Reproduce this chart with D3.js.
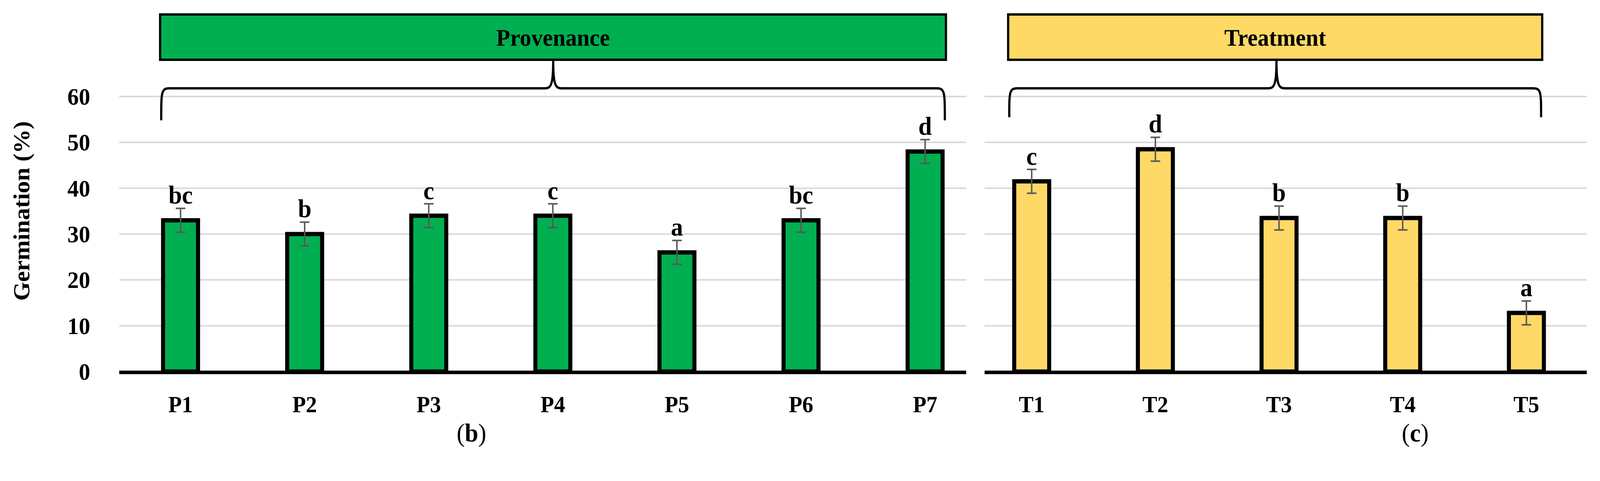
<!DOCTYPE html>
<html><head><meta charset="utf-8">
<script src="https://cdn.jsdelivr.net/npm/d3@7"></script>
<style>html,body{margin:0;padding:0;background:#fff;overflow:hidden}svg{display:block;width:100vw;height:100vh}text{font-family:"Liberation Serif","DejaVu Serif",serif;font-weight:bold}</style>
</head><body><svg id="c" viewBox="0 0 4347 1231" preserveAspectRatio="none"></svg>
<script>
var provenances = ["P1","P2","P3","P4","P5","P6","P7"];
var provValues = [33, 30, 34, 34, 26, 33, 48];
var provErrors = [2.6, 2.6, 2.6, 2.6, 2.6, 2.6, 2.6];
var provLetters = ["bc","b","c","c","a","bc","d"];
var treatments = ["T1","T2","T3","T4","T5"];
var treatValues = [41.5, 48.5, 33.5, 33.5, 12.8];
var treatErrors = [2.6, 2.6, 2.6, 2.6, 2.6];
var treatLetters = ["c","d","b","b","a"];
var yTicks = [0, 10, 20, 30, 40, 50, 60];

var svg = d3.select("#c");
var y = d3.scaleLinear().domain([0, 60]).range([951, 247]);

function panel(cats, vals, errs, letters, o) {
  var x = d3.scaleBand().domain(cats).range(o.band).paddingInner(0.69).paddingOuter(0.345);
  var g = svg.append("g");
  g.selectAll(".grid").data(yTicks.slice(1)).enter().append("line")
    .attr("x1", o.axis[0]).attr("x2", o.axis[1])
    .attr("y1", function (d) { return y(d); }).attr("y2", function (d) { return y(d); })
    .attr("stroke", "#d9d9d9").attr("stroke-width", 4);
  var bw = 95;
  g.selectAll(".bar").data(vals).enter().append("rect")
    .attr("x", function (d, i) { return x(cats[i]) + x.bandwidth() / 2 - bw / 2; })
    .attr("y", function (d) { return y(d); })
    .attr("width", bw).attr("height", function (d) { return y(0) - y(d); })
    .attr("fill", o.fill).attr("stroke", "#000").attr("stroke-width", 11);
  g.append("line").attr("x1", o.axis[0]).attr("x2", o.axis[1]).attr("y1", y(0) + 2).attr("y2", y(0) + 2)
    .attr("stroke", "#000").attr("stroke-width", 9);
  var cx = function (i) { return x(cats[i]) + x.bandwidth() / 2; };
  vals.forEach(function (v, i) {
    var t = y(v + errs[i]), b = y(v - errs[i]);
    g.append("line").attr("x1", cx(i)).attr("x2", cx(i)).attr("y1", t).attr("y2", b).attr("stroke", "#595959").attr("stroke-width", 4);
    [t, b].forEach(function (yy) {
      g.append("line").attr("x1", cx(i) - 13).attr("x2", cx(i) + 13).attr("y1", yy).attr("y2", yy).attr("stroke", "#595959").attr("stroke-width", 4);
    });
    g.append("text").attr("x", cx(i)).attr("y", t - 12).attr("text-anchor", "middle")
      .attr("font-size", 66).text(letters[i]);
    g.append("text").attr("x", cx(i)).attr("y", 1055).attr("text-anchor", "middle")
      .attr("font-size", 60).text(cats[i]);
  });
  // header box
  g.append("rect").attr("x", o.box[0]).attr("y", 37).attr("width", o.box[1] - o.box[0]).attr("height", 116)
    .attr("fill", o.fill).attr("stroke", "#000").attr("stroke-width", 6);
  g.append("text").attr("x", (o.box[0] + o.box[1]) / 2).attr("y", 117).attr("text-anchor", "middle")
    .attr("font-size", 62).text(o.title);
  // brace
  var l = o.box[0] + 3, r = o.box[1] - 3, m = o.mid, h = 226, e = o.braceEnd;
  var p = "M" + l + "," + e + " C" + l + "," + (h + 10) + " " + l + "," + h + " " + (l + 22) + "," + h +
    " L" + (m - 22) + "," + h + " C" + (m - 6) + "," + h + " " + m + "," + (h - 10) + " " + m + "," + 155 +
    " C" + m + "," + (h - 10) + " " + (m + 6) + "," + h + " " + (m + 22) + "," + h +
    " L" + (r - 22) + "," + h + " C" + r + "," + h + " " + r + "," + (h + 10) + " " + r + "," + e;
  g.append("path").attr("d", p).attr("fill", "none").attr("stroke", "#000").attr("stroke-width", 6);
  g.append("text").attr("x", o.cap).attr("y", 1130).attr("text-anchor", "middle").attr("font-size", 66)
    .style("font-weight", "normal").html(o.caption);
}

panel(provenances, provValues, provErrors, provLetters,
  { band: [322, 2682], axis: [324, 2625], fill: "#00b050", box: [435, 2570], mid: 1503, braceEnd: 308,
    title: "Provenance", cap: 1281, caption: "(<tspan font-weight='bold'>b</tspan>)" });
panel(treatments, treatValues, treatErrors, treatLetters,
  { band: [2635, 4315], axis: [2675, 4311], fill: "#ffd966", box: [2739, 4190], mid: 3468, braceEnd: 300,
    title: "Treatment", cap: 3845, caption: "(<tspan font-weight='bold'>c</tspan>)" });

svg.selectAll(".yt").data(yTicks).enter().append("text")
  .attr("x", 245).attr("y", function (d) { return y(d) + 21; }).attr("text-anchor", "end")
  .attr("font-size", 62).text(function (d) { return d; });
svg.append("text").attr("transform", "translate(80,540) rotate(-90)").attr("text-anchor", "middle")
  .attr("font-size", 62).text("Germination (%)");
</script></body></html>
